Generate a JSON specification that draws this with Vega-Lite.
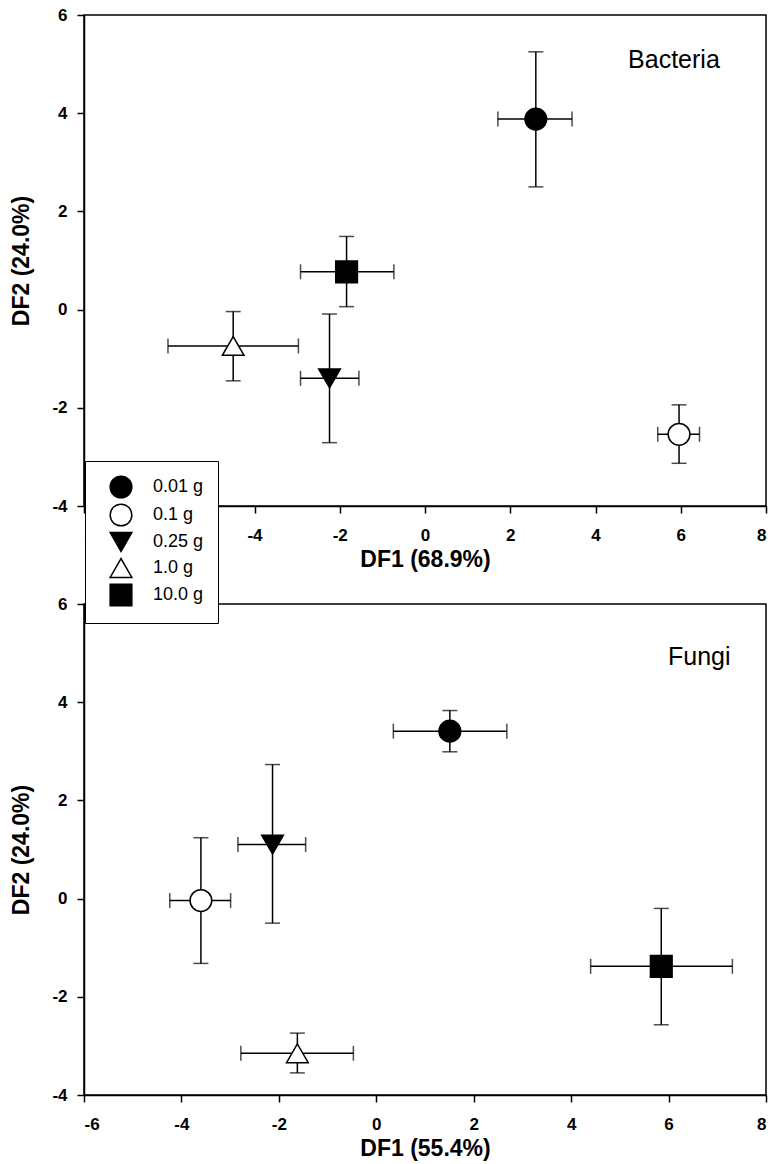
{
  "$schema": "https://vega.github.io/schema/vega-lite/v6.json",
  "autosize": {"type": "pad"},
  "padding": {"left": 10, "top": 5, "right": 1, "bottom": 5},
  "bounds": "flush",
  "spacing": 98,
  "background": "white",
  "config": {
    "font": "Liberation Sans",
    "view": {"stroke": "black", "strokeWidth": 1.5},
    "axis": {"grid": false, "domainColor": "black", "domainWidth": 1.5, "tickColor": "black", "tickWidth": 1.5, "tickSize": 7, "labelFont": "Liberation Sans", "labelFontWeight": "bold", "labelFontSize": 17, "labelColor": "black", "labelPadding": 14, "titleFont": "Liberation Sans", "titleFontWeight": "bold", "titleFontSize": 23, "titleColor": "black", "labelExpr": "replace(datum.label, '\u2212', '-')"},
    "axisX": {"titlePadding": 5},
    "axisY": {"titlePadding": 18, "labelPadding": 10},
    "legend": {"title": null, "orient": "none", "legendX": 1, "legendY": 446, "fillColor": "white", "strokeColor": "black", "padding": 14, "symbolStrokeColor": "black", "symbolStrokeWidth": 1.5, "labelFontSize": 18, "labelFont": "Liberation Sans", "labelColor": "black", "rowPadding": 0, "symbolOffset": 10, "labelOffset": 20}
  },
  "datasets": {
    "pts": [
      {"panel": "Bacteria", "group": "0.01 g", "x": 2.60, "y": 3.88, "xlo": 1.71, "xhi": 3.45, "ylo": 2.50, "yhi": 5.25},
      {"panel": "Bacteria", "group": "0.1 g", "x": 5.96, "y": -2.54, "xlo": 5.46, "xhi": 6.44, "ylo": -3.13, "yhi": -1.94},
      {"panel": "Bacteria", "group": "0.25 g", "x": -2.24, "y": -1.40, "xlo": -2.92, "xhi": -1.55, "ylo": -2.71, "yhi": -0.09},
      {"panel": "Bacteria", "group": "1.0 g", "x": -4.50, "y": -0.74, "xlo": -6.03, "xhi": -2.97, "ylo": -1.45, "yhi": -0.04},
      {"panel": "Bacteria", "group": "10.0 g", "x": -1.84, "y": 0.77, "xlo": -2.92, "xhi": -0.73, "ylo": 0.06, "yhi": 1.49},
      {"panel": "Fungi", "group": "0.01 g", "x": 1.51, "y": 3.41, "xlo": 0.35, "xhi": 2.68, "ylo": 2.99, "yhi": 3.83},
      {"panel": "Fungi", "group": "0.1 g", "x": -3.60, "y": -0.04, "xlo": -4.24, "xhi": -2.99, "ylo": -1.32, "yhi": 1.24},
      {"panel": "Fungi", "group": "0.25 g", "x": -2.13, "y": 1.10, "xlo": -2.84, "xhi": -1.45, "ylo": -0.50, "yhi": 2.73},
      {"panel": "Fungi", "group": "1.0 g", "x": -1.62, "y": -3.15, "xlo": -2.78, "xhi": -0.47, "ylo": -3.55, "yhi": -2.74},
      {"panel": "Fungi", "group": "10.0 g", "x": 5.85, "y": -1.38, "xlo": 4.40, "xhi": 7.31, "ylo": -2.57, "yhi": -0.20}
    ]
  },
  "vconcat": [
    {
      "width": 682,
      "height": 491,
      "data": {"name": "pts"},
      "transform": [{"filter": "datum.panel === 'Bacteria'"}],
      "layer": [
        {"mark": {"type": "rule", "color": "black", "strokeWidth": 1.5},
         "encoding": {"x": {"field": "xlo", "type": "quantitative", "title": "DF1 (68.9%)"}, "x2": {"field": "xhi"}, "y": {"field": "y", "type": "quantitative", "title": "DF2 (24.0%)"}}},
        {"mark": {"type": "rule", "color": "black", "strokeWidth": 1.5},
         "encoding": {"x": {"field": "x", "type": "quantitative", "title": "DF1 (68.9%)"}, "y": {"field": "ylo", "type": "quantitative", "title": "DF2 (24.0%)"}, "y2": {"field": "yhi"}}},
        {"mark": {"type": "tick", "orient": "vertical", "size": 15, "thickness": 1.5, "color": "black"},
         "encoding": {"x": {"field": "xlo", "type": "quantitative", "title": "DF1 (68.9%)"}, "y": {"field": "y", "type": "quantitative", "title": "DF2 (24.0%)"}}},
        {"mark": {"type": "tick", "orient": "vertical", "size": 15, "thickness": 1.5, "color": "black"},
         "encoding": {"x": {"field": "xhi", "type": "quantitative", "title": "DF1 (68.9%)"}, "y": {"field": "y", "type": "quantitative", "title": "DF2 (24.0%)"}}},
        {"mark": {"type": "tick", "orient": "horizontal", "size": 15, "thickness": 1.5, "color": "black"},
         "encoding": {"x": {"field": "x", "type": "quantitative", "title": "DF1 (68.9%)"}, "y": {"field": "ylo", "type": "quantitative", "title": "DF2 (24.0%)"}}},
        {"mark": {"type": "tick", "orient": "horizontal", "size": 15, "thickness": 1.5, "color": "black"},
         "encoding": {"x": {"field": "x", "type": "quantitative", "title": "DF1 (68.9%)"}, "y": {"field": "yhi", "type": "quantitative", "title": "DF2 (24.0%)"}}},
        {"mark": {"type": "point", "filled": false, "strokeWidth": 1.5, "opacity": 1},
         "encoding": {
           "x": {"field": "x", "type": "quantitative", "title": "DF1 (68.9%)", "scale": {"domain": [-8, 8], "nice": false, "zero": false}, "axis": {"values": [-8, -6, -4, -2, 0, 2, 4, 6, 8]}},
           "y": {"field": "y", "type": "quantitative", "title": "DF2 (24.0%)", "scale": {"domain": [-4, 6], "nice": false, "zero": false}, "axis": {"values": [-4, -2, 0, 2, 4, 6]}},
           "shape": {"field": "group", "type": "nominal", "scale": {"domain": ["0.01 g", "0.1 g", "0.25 g", "1.0 g", "10.0 g"], "range": ["circle", "circle", "triangle-down", "triangle-up", "square"]}},
           "fill": {"field": "group", "type": "nominal", "scale": {"domain": ["0.01 g", "0.1 g", "0.25 g", "1.0 g", "10.0 g"], "range": ["black", "white", "black", "white", "black"]}},
           "stroke": {"field": "group", "type": "nominal", "scale": {"domain": ["0.01 g", "0.1 g", "0.25 g", "1.0 g", "10.0 g"], "range": ["black", "black", "black", "black", "black"]}},
           "size": {"field": "group", "type": "nominal", "scale": {"domain": ["0.01 g", "0.1 g", "0.25 g", "1.0 g", "10.0 g"], "range": [470, 470, 470, 440, 350]}}
         }},
        {"data": {"values": [{"label": "Bacteria"}]},
         "mark": {"type": "text", "font": "Liberation Sans", "fontSize": 25, "color": "black", "align": "center", "baseline": "middle"},
         "encoding": {"x": {"datum": 5.84, "type": "quantitative"}, "y": {"datum": 5.08, "type": "quantitative"}, "text": {"field": "label"}}}
      ]
    },
    {
      "width": 682,
      "height": 491,
      "data": {"name": "pts"},
      "transform": [{"filter": "datum.panel === 'Fungi'"}],
      "layer": [
        {"mark": {"type": "rule", "color": "black", "strokeWidth": 1.5},
         "encoding": {"x": {"field": "xlo", "type": "quantitative", "title": "DF1 (55.4%)"}, "x2": {"field": "xhi"}, "y": {"field": "y", "type": "quantitative", "title": "DF2 (24.0%)"}}},
        {"mark": {"type": "rule", "color": "black", "strokeWidth": 1.5},
         "encoding": {"x": {"field": "x", "type": "quantitative", "title": "DF1 (55.4%)"}, "y": {"field": "ylo", "type": "quantitative", "title": "DF2 (24.0%)"}, "y2": {"field": "yhi"}}},
        {"mark": {"type": "tick", "orient": "vertical", "size": 15, "thickness": 1.5, "color": "black"},
         "encoding": {"x": {"field": "xlo", "type": "quantitative", "title": "DF1 (55.4%)"}, "y": {"field": "y", "type": "quantitative", "title": "DF2 (24.0%)"}}},
        {"mark": {"type": "tick", "orient": "vertical", "size": 15, "thickness": 1.5, "color": "black"},
         "encoding": {"x": {"field": "xhi", "type": "quantitative", "title": "DF1 (55.4%)"}, "y": {"field": "y", "type": "quantitative", "title": "DF2 (24.0%)"}}},
        {"mark": {"type": "tick", "orient": "horizontal", "size": 15, "thickness": 1.5, "color": "black"},
         "encoding": {"x": {"field": "x", "type": "quantitative", "title": "DF1 (55.4%)"}, "y": {"field": "ylo", "type": "quantitative", "title": "DF2 (24.0%)"}}},
        {"mark": {"type": "tick", "orient": "horizontal", "size": 15, "thickness": 1.5, "color": "black"},
         "encoding": {"x": {"field": "x", "type": "quantitative", "title": "DF1 (55.4%)"}, "y": {"field": "yhi", "type": "quantitative", "title": "DF2 (24.0%)"}}},
        {"mark": {"type": "point", "filled": false, "strokeWidth": 1.5, "opacity": 1},
         "encoding": {
           "x": {"field": "x", "type": "quantitative", "title": "DF1 (55.4%)", "scale": {"domain": [-6, 8], "nice": false, "zero": false}, "axis": {"values": [-6, -4, -2, 0, 2, 4, 6, 8]}},
           "y": {"field": "y", "type": "quantitative", "title": "DF2 (24.0%)", "scale": {"domain": [-4, 6], "nice": false, "zero": false}, "axis": {"values": [-4, -2, 0, 2, 4, 6]}},
           "shape": {"field": "group", "type": "nominal"},
           "fill": {"field": "group", "type": "nominal"},
           "stroke": {"field": "group", "type": "nominal"},
           "size": {"field": "group", "type": "nominal"}
         }},
        {"data": {"values": [{"label": "Fungi"}]},
         "mark": {"type": "text", "font": "Liberation Sans", "fontSize": 25, "color": "black", "align": "center", "baseline": "middle"},
         "encoding": {"x": {"datum": 6.63, "type": "quantitative"}, "y": {"datum": 4.93, "type": "quantitative"}, "text": {"field": "label"}}}
      ]
    }
  ]
}
